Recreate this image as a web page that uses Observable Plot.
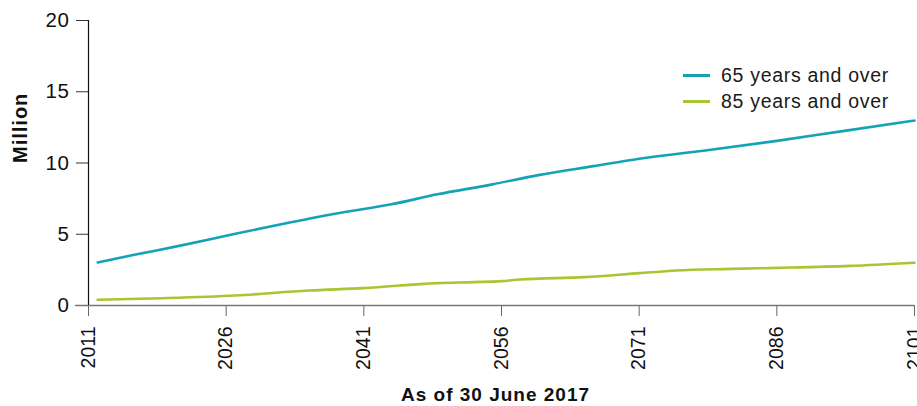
<!DOCTYPE html>
<html>
<head>
<meta charset="utf-8">
<script src="https://cdn.jsdelivr.net/npm/d3@7"></script>
<script src="https://cdn.jsdelivr.net/npm/@observablehq/plot@0.6"></script>
<style>
  html, body { margin: 0; padding: 0; background: white; }
  #wrap { position: relative; width: 917px; height: 406px; overflow: hidden; }
  .legend { position: absolute; left: 683px; top: 62px; font-family: "Liberation Sans", Arial, sans-serif; font-size: 19.5px; letter-spacing: 0.7px; color: #1a1a1a; }
  .legend .row { height: 26px; line-height: 26px; white-space: nowrap; display: flex; align-items: center; }
  .legend .sw { display: inline-block; width: 27px; height: 3px; margin-right: 11px; }
</style>
</head>
<body>
<div id="wrap"></div>
<script>
// Series names
const seriesNames = ["65 years and over", "85 years and over"];
const seriesColors = ["#14a3b6", "#a6c632"];

// 65 years and over (millions)
const years65 = [2012, 2016, 2021, 2027, 2032, 2038, 2044, 2049, 2055, 2060, 2066, 2071, 2078, 2086, 2093, 2101];
const values65 = [3.02, 3.56, 4.2, 5.03, 5.7, 6.45, 7.1, 7.8, 8.5, 9.15, 9.78, 10.3, 10.86, 11.55, 12.22, 12.98];

// 85 years and over (millions)
const years85 = [2012, 2019, 2027, 2035, 2041, 2049, 2053, 2056, 2058, 2065, 2071, 2075, 2081, 2086, 2094, 2101];
const values85 = [0.4, 0.51, 0.70, 1.05, 1.22, 1.57, 1.64, 1.71, 1.82, 1.99, 2.27, 2.46, 2.57, 2.64, 2.78, 3.0];

// Axis ticks and titles
const xTicks = [2011, 2026, 2041, 2056, 2071, 2086, 2101];
const yTicks = [0, 5, 10, 15, 20];
const xTitle = "As of 30 June 2017";
const yTitle = "Million";

const data = [
  ...years65.map((y, i) => ({year: y, value: values65[i], series: seriesNames[0]})),
  ...years85.map((y, i) => ({year: y, value: values85[i], series: seriesNames[1]}))
];

const chart = Plot.plot({
  width: 917,
  height: 406,
  marginLeft: 88,
  marginRight: 3,
  marginTop: 20,
  marginBottom: 101,
  style: {fontFamily: "'Liberation Sans', Arial, sans-serif", fontSize: "19px", color: "#111", background: "white", overflow: "visible"},
  x: {domain: [2011, 2101]},
  y: {domain: [0, 20]},
  color: {domain: seriesNames, range: seriesColors},
  marks: [
    Plot.axisY({ticks: yTicks, tickSize: 12, tickPadding: 7, label: null, stroke: "#333", fill: "#111"}),
    Plot.axisX({ticks: xTicks, tickFormat: "d", tickRotate: -90, tickSize: 11, tickPadding: 10, label: null, stroke: "#666", fill: "#111"}),
    Plot.ruleY([0], {stroke: "#777", strokeWidth: 1.3, insetLeft: -13}),
    Plot.ruleX([2011], {stroke: "#111", strokeWidth: 1.2}),
    Plot.lineY(data, {x: "year", y: "value", z: "series", stroke: "series", strokeWidth: 2.6, curve: "monotone-x"}),
    Plot.text([xTitle], {frameAnchor: "bottom", dy: 89, dx: -6, text: d => d, fontWeight: "bold", fontSize: 19, lineAnchor: "middle", fill: "#111"}),
    Plot.text([yTitle], {frameAnchor: "left", dx: -68, rotate: -90, text: d => d, fontWeight: "bold", fontSize: 20, lineAnchor: "middle", fill: "#111"})
  ]
});
chart.querySelectorAll("text").forEach(t => {
  if (t.textContent === xTitle) t.setAttribute("letter-spacing", "1");
  if (t.textContent === yTitle) t.setAttribute("letter-spacing", "1");
});
chart.querySelectorAll('g[aria-label="y-axis tick label"]').forEach(g => {
  g.style.fontSize = "20.5px";
  g.querySelectorAll("text").forEach(t => { t.style.fontSize = "20.5px"; t.setAttribute("letter-spacing", "0.6"); });
});
chart.querySelectorAll('g[aria-label="x-axis tick label"]').forEach(g => {
  g.style.fontSize = "19.5px";
  g.querySelectorAll("text").forEach(t => { t.style.fontSize = "19.5px"; });
});

const wrap = document.getElementById("wrap");
wrap.appendChild(chart);

const legend = document.createElement("div");
legend.className = "legend";
seriesNames.forEach((name, i) => {
  const row = document.createElement("div");
  row.className = "row";
  const sw = document.createElement("span");
  sw.className = "sw";
  sw.style.background = seriesColors[i];
  row.appendChild(sw);
  row.appendChild(document.createTextNode(name));
  legend.appendChild(row);
});
wrap.appendChild(legend);
</script>
</body>
</html>
